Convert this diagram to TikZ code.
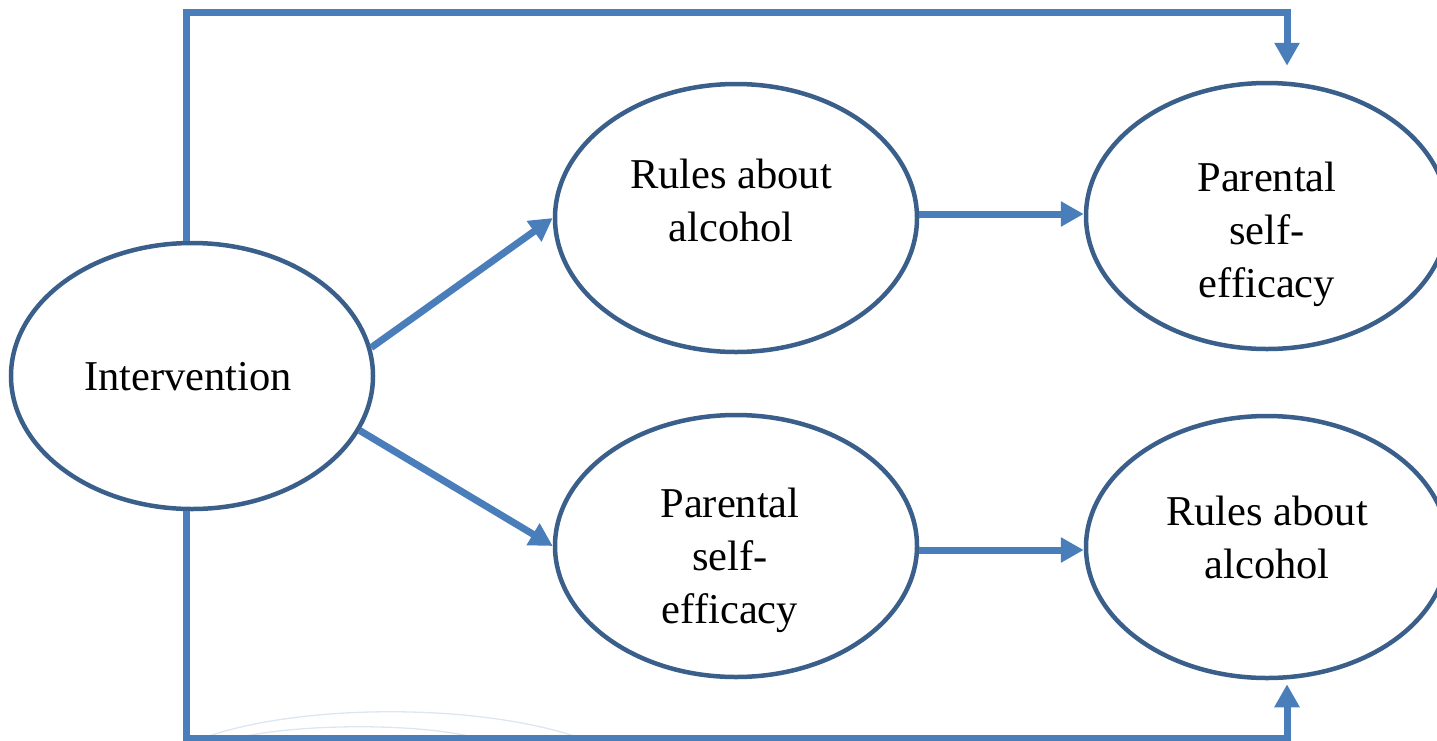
\documentclass[tikz,border=0pt]{standalone}
\usepackage{fontspec}
\setmainfont{Liberation Serif}
\usetikzlibrary{shapes.geometric,arrows.meta,calc}
\definecolor{outline}{HTML}{3A5F8B}
\definecolor{flowblue}{HTML}{4A7EBB}
\definecolor{faintblue}{HTML}{DCE6F1}
\tikzset{
  oval/.style={ellipse, draw=outline, line width=4.5pt, minimum width=362pt,
               minimum height=266pt, inner sep=0pt},
  lbl/.style={font=\fontsize{42.5}{53}\selectfont, align=center, anchor=base,
              inner sep=0pt},
  flow/.style={draw=flowblue, line width=7pt,
               -{Triangle[length=23pt,width=24pt]}},
  plain/.style={draw=flowblue, line width=7pt},
}
\begin{document}
\begin{tikzpicture}[x=1pt,y=-1pt]
  \useasboundingbox (0,0) rectangle (1437,740);

  % faint arcs along the bottom edge
  \draw[faintblue, line width=1.3pt] (203,738) .. controls (300,703) and (480,703) .. (580,738);
  \draw[faintblue, line width=1.3pt] (237,738) .. controls (300,723) and (420,723) .. (477,738);

  % the five ovals
  \node[oval] (int) at (192,376) {};
  \node[oval, minimum height=268pt] (r1) at (736,218) {};
  \node[oval] (ps1) at (1267,216) {};
  \node[oval, minimum height=262pt] (ps2) at (736,546) {};
  \node[oval, minimum height=262pt] (r2) at (1267,547) {};

  % labels (anchored on the baseline of the last line)
  \node[lbl] (tint) at (188,390) {Intervention};
  \node[lbl] (tr1) at (731,241) {Rules about\\alcohol};
  \node[lbl] (tps1) at (1267,297) {Parental\\self-\\efficacy};
  \node[lbl] (tps2) at (730,623) {Parental\\self-\\efficacy};
  \node[lbl] (tr2) at (1267,578) {Rules about\\alcohol};

  % direct arrows
  \draw[flow] (int.9) -- (r1.west);
  \draw[flow] (int.-18) -- (ps2.west);
  \draw[flow] ([yshift=4pt]r1.east) -- ([yshift=4pt]r1.east -| ps1.west);
  \draw[flow] ([yshift=-4pt]ps2.east) -- ([yshift=-4pt]ps2.east -| r2.west);

  % long arrows round the top and bottom
  \coordinate (topcorner) at (186,12);
  \coordinate (toptip) at ([xshift=20pt,yshift=15pt]ps1.north);
  \coordinate (botcorner) at (186,738);
  \coordinate (bottip) at ([xshift=20pt,yshift=-4pt]r2.south);
  \draw[plain] ([xshift=-6pt]int.north) -- (topcorner) -- (topcorner -| toptip);
  \draw[flow] ([yshift=3.5pt]topcorner -| toptip) -- (toptip);
  \draw[plain] ([xshift=-6pt]int.south) -- (botcorner) -- (botcorner -| bottip);
  \draw[flow] ([yshift=-3.5pt]botcorner -| bottip) -- (bottip);
\end{tikzpicture}
\end{document}
